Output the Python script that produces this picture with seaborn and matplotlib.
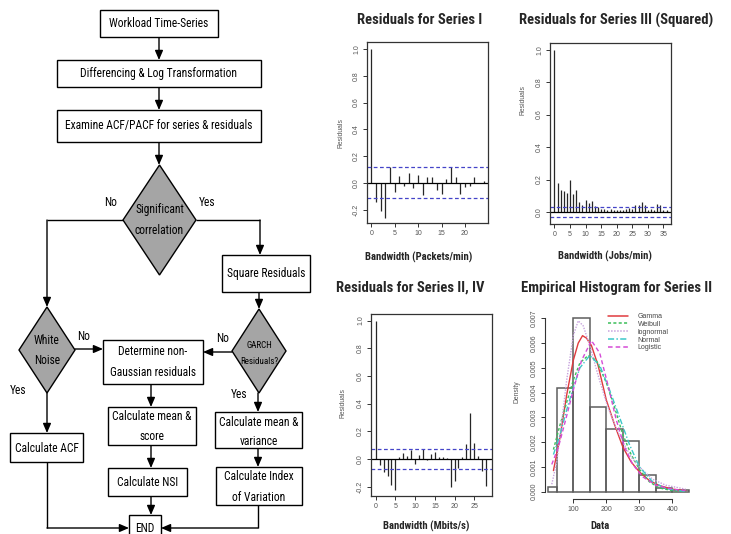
import numpy as np
import pandas as pd
import matplotlib
matplotlib.use('Agg')
import matplotlib.pyplot as plt
from matplotlib import font_manager
from matplotlib.patches import Rectangle, Polygon
from matplotlib.lines import Line2D
import seaborn as sns

sns.set_theme(style='ticks')
names = sorted({f.name for f in font_manager.fontManager.ttflist})


def pick(cands):
    for c in cands:
        if c in names:
            return c
    return 'DejaVu Sans'


FONT = pick(['Roboto Condensed', 'Liberation Sans Narrow', 'Open Sans Condensed', 'Roboto', 'Lato'])
RFONT = pick(['Liberation Sans', 'Arimo', 'DejaVu Sans'])
plt.rcParams['font.family'] = [FONT, 'DejaVu Sans']

# ---------------- data ----------------
acf1_lags = list(range(25))
acf1_vals = [1.0, -0.14, -0.214, -0.26, 0.117, -0.07, 0.052, -0.027, 0.077, -0.04,
             0.055, -0.09, 0.042, 0.047, -0.052, -0.082, 0.03, 0.117, 0.047, -0.082,
             -0.032, -0.022, 0.042, -0.002, 0.015]
acf1_ci = 0.115

acf2_lags = list(range(37))
acf2_vals = [1.0, 0.18, 0.133, 0.13, 0.117, 0.195, 0.113, 0.133, 0.061, 0.041,
             0.076, 0.055, 0.07, 0.035, 0.031, 0.018, 0.02, 0.01, 0.018, 0.01,
             0.014, 0.014, 0.014, 0.018, 0.025, 0.018, 0.041, 0.04, 0.061, 0.045,
             0.014, 0.018, 0.014, 0.05, 0.043, 0.014, 0.014]
acf2_ci = 0.032

acf3_lags = list(range(29))
acf3_vals = [1.0, -0.044, -0.092, -0.124, -0.19, -0.226, 0.017, 0.046, 0.022, 0.066,
             -0.039, 0.029, 0.07, -0.007, 0.034, 0.049, 0.012, 0.012, 0.005, -0.2,
             -0.158, -0.068, 0.017, 0.109, 0.335, 0.119, 0.024, -0.085, -0.197]
acf3_ci = 0.074

hist_edges = [25, 50, 100, 150, 200, 250, 300, 350, 400, 450]
hist_density = [0.00018, 0.00417, 0.0070, 0.00343, 0.00253, 0.00205, 0.00067, 0.00016, 0.00005]

gamma_x = [40, 60, 80, 100, 115, 128, 140, 155, 175, 200, 225, 250, 275, 300, 330, 360, 400, 440]
gamma_y = [0.00085, 0.0022, 0.0039, 0.0053, 0.006, 0.0063, 0.0062, 0.0059, 0.0051, 0.0037,
           0.0027, 0.0018, 0.0012, 0.0008, 0.00045, 0.00025, 0.0001, 0.00004]
weib_x = [40, 60, 80, 100, 120, 145, 170, 200, 225, 250, 275, 300, 330, 360, 400, 440]
weib_y = [0.0017, 0.0027, 0.0036, 0.0045, 0.0052, 0.0055, 0.0053, 0.0044, 0.0034, 0.0023,
          0.0015, 0.0009, 0.0004, 0.00015, 0.00004, 0.00001]
lnorm_x = [35, 50, 65, 80, 100, 115, 130, 150, 175, 200, 225, 250, 275, 300, 340, 380, 440]
lnorm_y = [0.0003, 0.0012, 0.0028, 0.0045, 0.0063, 0.0069, 0.0067, 0.0059, 0.0047, 0.0036,
           0.0027, 0.002, 0.0014, 0.001, 0.0005, 0.00026, 0.0001]
norm_x = [40, 60, 80, 100, 120, 150, 180, 210, 240, 270, 300, 340, 380, 440]
norm_y = [0.0015, 0.0023, 0.0033, 0.0042, 0.005, 0.0055, 0.0051, 0.0041, 0.003, 0.0019,
          0.001, 0.0004, 0.00012, 0.00001]
logis_x = [35, 55, 75, 100, 125, 155, 180, 205, 230, 255, 280, 310, 350, 400, 440]
logis_y = [0.0011, 0.0018, 0.0028, 0.0041, 0.0053, 0.0061, 0.0056, 0.0043, 0.0029, 0.0018,
           0.0011, 0.0006, 0.00026, 0.0001, 0.00004]
dist_names = ['Gamma', 'Weibull', 'lognormal', 'Normal', 'Logistic']

# ---------------- figure ----------------
W, H = 731, 534
fig = plt.figure(figsize=(W / 100, H / 100), dpi=100)
fig.patch.set_facecolor('white')
renderer = fig.canvas.get_renderer()


def fig_rect(x0, y0, x1, y1):
    return [x0 / W, 1 - y1 / H, (x1 - x0) / W, (y1 - y0) / H]


def text_width(s, size, weight='normal'):
    t = fig.text(0, 0, s, fontsize=size, fontweight=weight)
    w = t.get_window_extent(renderer).width
    t.remove()
    return w


FS_FLOW = 10 * 187 / text_width('Examine ACF/PACF for series & residuals', 10)
FS_TITLE = 10 * 126 / text_width('Residuals for Series I', 10, 'bold')
FS_XLAB = 10 * 108 / text_width('Bandwidth (Packets/min)', 10, 'bold')

# ---------------- flowchart ----------------
axf = fig.add_axes([0, 0, 320 / W, 1])
axf.set_xlim(0, 320)
axf.set_ylim(534, 0)
axf.axis('off')
LW = 1.0
GRAY = '#a5a5a5'


def box(x0, y0, x1, y1):
    axf.add_patch(Rectangle((x0, y0), x1 - x0, y1 - y0, facecolor='white',
                            edgecolor='black', lw=LW, zorder=2))


def diamond(cx, cy, hw, hh):
    axf.add_patch(Polygon([(cx, cy - hh), (cx + hw, cy), (cx, cy + hh), (cx - hw, cy)],
                          closed=True, facecolor=GRAY, edgecolor='black', lw=LW, zorder=2))


def label(x, y, s, fs=None):
    axf.text(x, y, s, ha='center', va='center', fontsize=fs or FS_FLOW, color='black', zorder=3)


def arrow(pts):
    xs = [p[0] for p in pts]
    ys = [p[1] for p in pts]
    if len(pts) > 2:
        axf.plot(xs[:-1], ys[:-1], color='black', lw=LW, solid_capstyle='butt', zorder=1)
    axf.annotate('', xy=pts[-1], xytext=pts[-2],
                 arrowprops=dict(arrowstyle='-|>,head_length=0.7,head_width=0.3',
                                 color='black', lw=LW, shrinkA=0, shrinkB=0,
                                 mutation_scale=8), zorder=1)


box(100, 10, 218, 37); label(159, 23.5, 'Workload Time-Series')
box(57, 60, 261, 87); label(159, 73.5, 'Differencing & Log Transformation')
box(57, 110, 261, 142); label(159, 126, 'Examine ACF/PACF for series & residuals')
diamond(159.5, 220, 36.5, 55)
label(159.5, 210, 'Significant'); label(159.5, 230, 'correlation')
box(222, 255, 310, 292); label(266, 274, 'Square Residuals')
diamond(47, 350, 28, 43); label(47, 340, 'White'); label(47, 360, 'Noise')
diamond(259, 351, 27, 42)
label(259, 346, 'GARCH', FS_FLOW * 0.78); label(259, 362, 'Residuals?', FS_FLOW * 0.78)
box(103, 340, 203, 384); label(153, 351.7, 'Determine non-'); label(153, 372.7, 'Gaussian residuals')
box(10, 433, 83, 462); label(46.5, 448, 'Calculate ACF')
box(108, 407, 196, 445); label(152, 416, 'Calculate mean &'); label(152, 436.7, 'score')
box(108, 468, 187, 496); label(147.5, 482, 'Calculate NSI')
box(215, 412, 302, 448); label(258.5, 422.7, 'Calculate mean &'); label(258.5, 441.7, 'variance')
box(216, 467, 302, 505); label(259, 476.7, 'Calculate Index'); label(259, 497.3, 'of Variation')
box(129, 515, 161, 545); label(145, 528, 'END')

arrow([(159, 37), (159, 60)])
arrow([(159, 87), (159, 110)])
arrow([(159, 142), (159, 165)])
arrow([(123, 220), (47, 220), (47, 307)])
arrow([(196, 220), (260, 220), (260, 255)])
arrow([(259, 292), (259, 309)])
arrow([(75, 349), (103, 349)])
arrow([(232, 352), (203, 352)])
arrow([(47, 393), (47, 433)])
arrow([(151, 384), (151, 407)])
arrow([(151, 445), (151, 468)])
arrow([(151, 496), (151, 515)])
arrow([(258, 393), (258, 412)])
arrow([(258, 448), (258, 467)])
arrow([(47, 462), (47, 528), (129, 528)])
arrow([(258, 505), (258, 528), (161, 528)])

label(111, 202, 'No'); label(207, 203, 'Yes')
label(84, 337, 'No'); label(223, 338, 'No')
label(18, 390, 'Yes'); label(239, 395, 'Yes')

# ---------------- ACF panels ----------------
BLUE = '#4444c8'
TICK_FS = 5.0
TICK_C = '#555555'


def style_ticks(ax):
    ax.tick_params(length=3, width=0.7, color='#333333', labelsize=TICK_FS,
                   labelcolor=TICK_C, pad=2, direction='out')
    for lab in ax.get_xticklabels() + ax.get_yticklabels():
        lab.set_fontfamily([RFONT, 'DejaVu Sans'])


def acf_panel(rect, lags, vals, ci, xlim, ylim, xticks, yticks):
    ax = fig.add_axes(fig_rect(*rect))
    ax.vlines(lags, 0, vals, color='#262626', lw=0.9)
    ax.axhline(0, color='black', lw=0.9)
    ax.axhline(ci, color=BLUE, lw=0.9, ls=(0, (3, 2)))
    ax.axhline(-ci, color=BLUE, lw=0.9, ls=(0, (3, 2)))
    ax.set_xlim(*xlim)
    ax.set_ylim(*ylim)
    ax.set_xticks(xticks)
    ax.set_xticklabels([str(v) for v in xticks])
    ax.set_yticks(yticks)
    ax.set_yticklabels([f'{v:.1f}' for v in yticks], rotation=90, va='center')
    style_ticks(ax)
    for s in ax.spines.values():
        s.set_visible(True)
        s.set_color('#333333')
        s.set_linewidth(0.9)
    ax.grid(False)
    return ax


acf_panel((367, 42, 488, 223), acf1_lags, acf1_vals, acf1_ci, (-0.96, 24.96), (-0.30, 1.052),
          [0, 5, 10, 15, 20], [-0.2, 0.0, 0.2, 0.4, 0.6, 0.8, 1.0])
acf_panel((550, 43, 671, 224), acf2_lags, acf2_vals, acf2_ci, (-1.44, 37.44), (-0.074, 1.041),
          [0, 5, 10, 15, 20, 25, 30, 35], [0.0, 0.2, 0.4, 0.6, 0.8, 1.0])
acf_panel((371, 314, 492, 496), acf3_lags, acf3_vals, acf3_ci, (-1.2, 29.5), (-0.267, 1.047),
          [0, 5, 10, 15, 20, 25], [-0.2, 0.0, 0.2, 0.4, 0.6, 0.8, 1.0])

# ---------------- histogram panel ----------------
ax4 = fig.add_axes(fig_rect(545, 311.4, 690, 498.6))
mids = [(a + b) / 2 for a, b in zip(hist_edges[:-1], hist_edges[1:])]
sns.histplot(x=mids, weights=hist_density, bins=hist_edges, stat='count', fill=False,
             color='#5e5e5e', linewidth=1.1, ax=ax4)
curve_styles = [
    (gamma_x, gamma_y, '#e03a3e', '-'),
    (weib_x, weib_y, '#3cbf5a', (0, (2, 1.5))),
    (lnorm_x, lnorm_y, '#c7a3dd', (0, (1, 1))),
    (norm_x, norm_y, '#3cc7c9', (0, (4, 1.5, 1, 1.5))),
    (logis_x, logis_y, '#d54bd6', (0, (3, 2))),
]
handles = []
for (cx, cy, col, ls), nm in zip(curve_styles, dist_names):
    df = pd.DataFrame({'x': cx, 'y': cy})
    sns.lineplot(data=df, x='x', y='y', color=col, lw=1.0, linestyle=ls, sort=False,
                 estimator=None, ax=ax4)
    handles.append(Line2D([0], [0], color=col, lw=1.1, linestyle=ls))
ax4.set_xlim(14.5, 453)
ax4.set_ylim(-0.00028, 0.00728)
ax4.set_xlabel('')
ax4.set_ylabel('')
ax4.set_xticks([100, 200, 300, 400])
ax4.set_xticklabels(['100', '200', '300', '400'])
yt = [0.000, 0.001, 0.002, 0.003, 0.004, 0.005, 0.006, 0.007]
ax4.set_yticks(yt)
ax4.set_yticklabels([f'{v:.3f}' for v in yt], rotation=90, va='center')
style_ticks(ax4)
for side in ['top', 'right']:
    ax4.spines[side].set_visible(False)
ax4.spines['left'].set_bounds(0, 0.007)
ax4.spines['bottom'].set_bounds(100, 400)
for side in ['left', 'bottom']:
    ax4.spines[side].set_color('#333333')
    ax4.spines[side].set_linewidth(0.8)
leg = ax4.legend(handles, dist_names, loc='upper left', bbox_to_anchor=(608 / W, 1 - 313 / H),
                 bbox_transform=fig.transFigure, frameon=False,
                 prop={'family': RFONT, 'size': 5.0}, handlelength=2.9,
                 labelspacing=0.12, handletextpad=1.4, borderpad=0, borderaxespad=0,
                 labelcolor='#444444')

# ---------------- titles & labels ----------------
def ftext(x, y, s, **kw):
    fig.text(x / W, 1 - y / H, s, ha='center', va='center', **kw)


ftext(420, 20, 'Residuals for Series I', fontsize=FS_TITLE, fontweight='bold')
ftext(616, 20, 'Residuals for Series III (Squared)', fontsize=FS_TITLE, fontweight='bold')
ftext(410, 288, 'Residuals for Series II, IV', fontsize=FS_TITLE, fontweight='bold')
ftext(617, 288, 'Empirical Histogram for Series II', fontsize=FS_TITLE, fontweight='bold')

ftext(419, 257, 'Bandwidth (Packets/min)', fontsize=FS_XLAB, fontweight='bold')
ftext(605, 256, 'Bandwidth (Jobs/min)', fontsize=FS_XLAB, fontweight='bold')
ftext(426, 526, 'Bandwidth (Mbits/s)', fontsize=FS_XLAB, fontweight='bold')
ftext(600, 526, 'Data', fontsize=FS_XLAB, fontweight='bold')

ykw = dict(fontsize=4.9, rotation=90, color='#555555', family=[RFONT, 'DejaVu Sans'])
ftext(341, 133, 'Residuals', **ykw)
ftext(523, 100, 'Residuals', **ykw)
ftext(343, 403, 'Residuals', **ykw)
ftext(517, 392, 'Density', **ykw)

fig.savefig('out.png', dpi=100)
